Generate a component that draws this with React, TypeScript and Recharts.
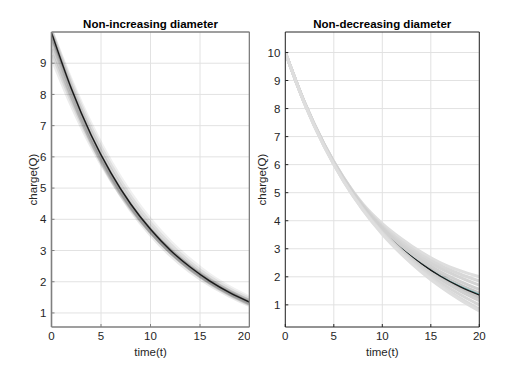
import React from 'react';
import { LineChart, Line, XAxis, YAxis, CartesianGrid } from 'recharts';

// ---------- data ----------
const TIME = [0, 2, 4, 6, 8, 10, 12, 14, 16, 18, 20];
const X_TICKS = [0, 5, 10, 15, 20];
const LEFT_Y_TICKS = [1, 2, 3, 4, 5, 6, 7, 8, 9];
const RIGHT_Y_TICKS = [1, 2, 3, 4, 5, 6, 7, 8, 9, 10];

const LEFT_TITLE = 'Non-increasing diameter';
const RIGHT_TITLE = 'Non-decreasing diameter';
const X_LABEL = 'time(t)';
const Y_LABEL = 'charge(Q)';

// Left panel: mean curve and surrounding sample curves
const LEFT_MAIN = [9.98, 8.19, 6.7, 5.49, 4.49, 3.68, 3.01, 2.47, 2.02, 1.65, 1.35];
const LEFT_S1 = [9.25, 7.72, 6.4, 5.3, 4.38, 3.62, 2.99, 2.46, 2.02, 1.66, 1.36];
const LEFT_S2 = [9.45, 7.86, 6.5, 5.36, 4.41, 3.63, 2.98, 2.44, 2.0, 1.63, 1.32];
const LEFT_S3 = [9.65, 7.98, 6.57, 5.4, 4.43, 3.63, 2.97, 2.43, 1.98, 1.61, 1.3];
const LEFT_S4 = [9.98, 8.32, 6.88, 5.68, 4.68, 3.85, 3.16, 2.59, 2.12, 1.74, 1.43];
const LEFT_S5 = [9.98, 8.4, 7.0, 5.8, 4.8, 3.96, 3.26, 2.68, 2.19, 1.8, 1.48];
const LEFT_S6 = [9.85, 8.05, 6.55, 5.33, 4.34, 3.54, 2.88, 2.35, 1.92, 1.57, 1.27];
const LEFT_S7 = [9.9, 8.12, 6.64, 5.42, 4.42, 3.62, 2.96, 2.42, 1.98, 1.62, 1.31];
const LEFT_S8 = [9.98, 8.25, 6.78, 5.57, 4.57, 3.75, 3.07, 2.52, 2.06, 1.69, 1.39];

// Right panel
const RIGHT_MAIN = [10, 8.19, 6.7, 5.49, 4.49, 3.68, 3.01, 2.47, 2.02, 1.65, 1.35];
const RIGHT_CYAN = [10, 8.19, 6.7, 5.49, 4.49, 3.68, 3.02, 2.48, 2.03, 1.67, 1.38];
const RIGHT_MID1 = [10, 8.19, 6.71, 5.5, 4.5, 3.7, 3.05, 2.52, 2.08, 1.72, 1.42];
const RIGHT_MID2 = [10, 8.18, 6.69, 5.47, 4.47, 3.65, 2.98, 2.43, 1.97, 1.58, 1.25];
const RIGHT_UP1 = [10, 8.21, 6.74, 5.55, 4.6, 3.9, 3.35, 2.88, 2.5, 2.22, 2.0];
const RIGHT_UP2 = [10, 8.2, 6.73, 5.53, 4.56, 3.82, 3.25, 2.78, 2.4, 2.1, 1.85];
const RIGHT_UP3 = [10, 8.2, 6.72, 5.52, 4.54, 3.77, 3.17, 2.69, 2.3, 1.98, 1.7];
const RIGHT_UP4 = [10, 8.19, 6.71, 5.5, 4.52, 3.73, 3.1, 2.6, 2.18, 1.84, 1.55];
const RIGHT_LO1 = [10, 8.18, 6.68, 5.46, 4.45, 3.62, 2.94, 2.38, 1.9, 1.5, 1.15];
const RIGHT_LO2 = [10, 8.17, 6.67, 5.44, 4.42, 3.58, 2.88, 2.3, 1.8, 1.37, 1.0];
const RIGHT_LO3 = [10, 8.17, 6.66, 5.42, 4.4, 3.55, 2.84, 2.23, 1.7, 1.24, 0.85];
const RIGHT_LO4 = [10, 8.16, 6.65, 5.41, 4.38, 3.52, 2.8, 2.18, 1.64, 1.18, 0.78];

// ---------- helpers ----------
type SeriesDef = { key: string; values: number[]; stroke: string; width: number; opacity: number };

function buildRows(series: SeriesDef[]) {
  return TIME.map((t, i) => {
    const row: Record<string, number> = { t };
    series.forEach((s) => {
      row[s.key] = s.values[i];
    });
    return row;
  });
}

const FONT = '"Liberation Sans", Arial, Helvetica, sans-serif';
const TEXT = '#262626';

type PanelProps = {
  left: number;
  width: number;
  yAxisWidth: number;
  marginRight: number;
  yDomain: [number, number];
  yTicks: number[];
  title: string;
  series: SeriesDef[];
  frame: string;
  frameWidth: number;
  yLabelOffset: number;
};

function Panel(p: PanelProps) {
  const rows = buildRows(p.series);
  const tickStyle = { fontSize: 11.5, fill: TEXT, fontFamily: FONT };
  const axisLine = { stroke: p.frame, strokeWidth: p.frameWidth };
  const tickLine = { stroke: p.frame, strokeWidth: 1 };
  return (
    <div style={{ position: 'absolute', left: p.left, top: 0 }}>
      <LineChart
        width={p.width}
        height={367}
        data={rows}
        margin={{ top: 32, right: p.marginRight - 1, bottom: 0, left: 0 }}
      >
        <CartesianGrid stroke="#e2e2e2" strokeWidth={1} horizontalValues={p.yTicks} verticalValues={X_TICKS} />
        <XAxis
          dataKey="t"
          type="number"
          domain={[0, 20]}
          ticks={X_TICKS}
          allowDataOverflow
          height={40}
          tickSize={-3}
          tickMargin={8}
          tick={tickStyle}
          tickLine={tickLine}
          axisLine={axisLine}
          label={{ value: X_LABEL, position: 'insideBottom', offset: 11, style: { fontSize: 11.5, fill: TEXT, fontFamily: FONT } }}
        />
        <XAxis
          xAxisId="top"
          orientation="top"
          dataKey="t"
          type="number"
          domain={[0, 20]}
          ticks={X_TICKS}
          allowDataOverflow
          height={1}
          mirror
          tickSize={3}
          tick={false}
          tickLine={tickLine}
          axisLine={axisLine}
          label={{
            value: p.title,
            position: 'top',
            offset: 4,
            style: { fontSize: 11.5, fontWeight: 'bold', fill: '#000', fontFamily: FONT },
          }}
        />
        <YAxis
          type="number"
          domain={p.yDomain}
          ticks={p.yTicks}
          allowDataOverflow
          width={p.yAxisWidth}
          tickSize={-3}
          tickMargin={8}
          tick={tickStyle}
          tickLine={tickLine}
          axisLine={axisLine}
          label={{
            value: Y_LABEL,
            angle: -90,
            position: 'insideLeft',
            offset: p.yLabelOffset,
            style: { fontSize: 11.5, fill: TEXT, fontFamily: FONT, textAnchor: 'middle' },
          }}
        />
        <YAxis
          yAxisId="right"
          orientation="right"
          type="number"
          domain={p.yDomain}
          ticks={p.yTicks}
          allowDataOverflow
          width={1}
          mirror
          tickSize={3}
          tick={false}
          tickLine={tickLine}
          axisLine={axisLine}
        />
        {p.series.map((s) => (
          <Line
            key={s.key}
            dataKey={s.key}
            type="monotone"
            stroke={s.stroke}
            strokeWidth={s.width}
            strokeOpacity={s.opacity}
            dot={false}
            activeDot={false}
            isAnimationActive={false}
          />
        ))}
      </LineChart>
    </div>
  );
}

const LEFT_SERIES: SeriesDef[] = [
  { key: 's1', values: LEFT_S1, stroke: '#000', width: 5, opacity: 0.08 },
  { key: 's2', values: LEFT_S2, stroke: '#000', width: 5, opacity: 0.08 },
  { key: 's3', values: LEFT_S3, stroke: '#000', width: 5, opacity: 0.09 },
  { key: 's4', values: LEFT_S4, stroke: '#000', width: 5, opacity: 0.07 },
  { key: 's5', values: LEFT_S5, stroke: '#000', width: 5, opacity: 0.06 },
  { key: 's6', values: LEFT_S6, stroke: '#000', width: 5, opacity: 0.09 },
  { key: 's7', values: LEFT_S7, stroke: '#000', width: 4, opacity: 0.12 },
  { key: 's8', values: LEFT_S8, stroke: '#000', width: 4, opacity: 0.1 },
  { key: 'main', values: LEFT_MAIN, stroke: '#1a1a1a', width: 1.4, opacity: 1 },
];

const RIGHT_SERIES: SeriesDef[] = [
  { key: 'm1', values: RIGHT_MID1, stroke: '#000', width: 3, opacity: 0.22 },
  { key: 'm2', values: RIGHT_MID2, stroke: '#000', width: 3, opacity: 0.22 },
  { key: 'cyan', values: RIGHT_CYAN, stroke: '#5bb8b8', width: 1, opacity: 1 },
  { key: 'main', values: RIGHT_MAIN, stroke: '#1a1a1a', width: 1.3, opacity: 1 },
  { key: 'u1', values: RIGHT_UP1, stroke: '#dedede', width: 3, opacity: 1 },
  { key: 'u2', values: RIGHT_UP2, stroke: '#d8d8d8', width: 3, opacity: 1 },
  { key: 'u3', values: RIGHT_UP3, stroke: '#d4d4d4', width: 3, opacity: 1 },
  { key: 'u4', values: RIGHT_UP4, stroke: '#d0d0d0', width: 3, opacity: 1 },
  { key: 'l1', values: RIGHT_LO1, stroke: '#d0d0d0', width: 3, opacity: 1 },
  { key: 'l2', values: RIGHT_LO2, stroke: '#d6d6d6', width: 3, opacity: 1 },
  { key: 'l3', values: RIGHT_LO3, stroke: '#dadada', width: 3, opacity: 1 },
  { key: 'l4', values: RIGHT_LO4, stroke: '#dedede', width: 3, opacity: 1 },
];

export default function App() {
  return (
    <div style={{ position: 'absolute', left: 0, top: 0, width: 516, height: 367, background: '#fff' }}>
      <Panel
        left={0}
        width={250}
        yAxisWidth={51.5}
        marginRight={1.5}
        yDomain={[0.55, 10.0]}
        yTicks={LEFT_Y_TICKS}
        title={LEFT_TITLE}
        series={LEFT_SERIES}
        frame="#7f7f7f"
        frameWidth={1.6}
        yLabelOffset={33}
      />
      <Panel
        left={250}
        width={266}
        yAxisWidth={35.3}
        marginRight={37.7}
        yDomain={[0.21, 10.73]}
        yTicks={RIGHT_Y_TICKS}
        title={RIGHT_TITLE}
        series={RIGHT_SERIES}
        frame="#262626"
        frameWidth={1}
        yLabelOffset={12}
      />
    </div>
  );
}
